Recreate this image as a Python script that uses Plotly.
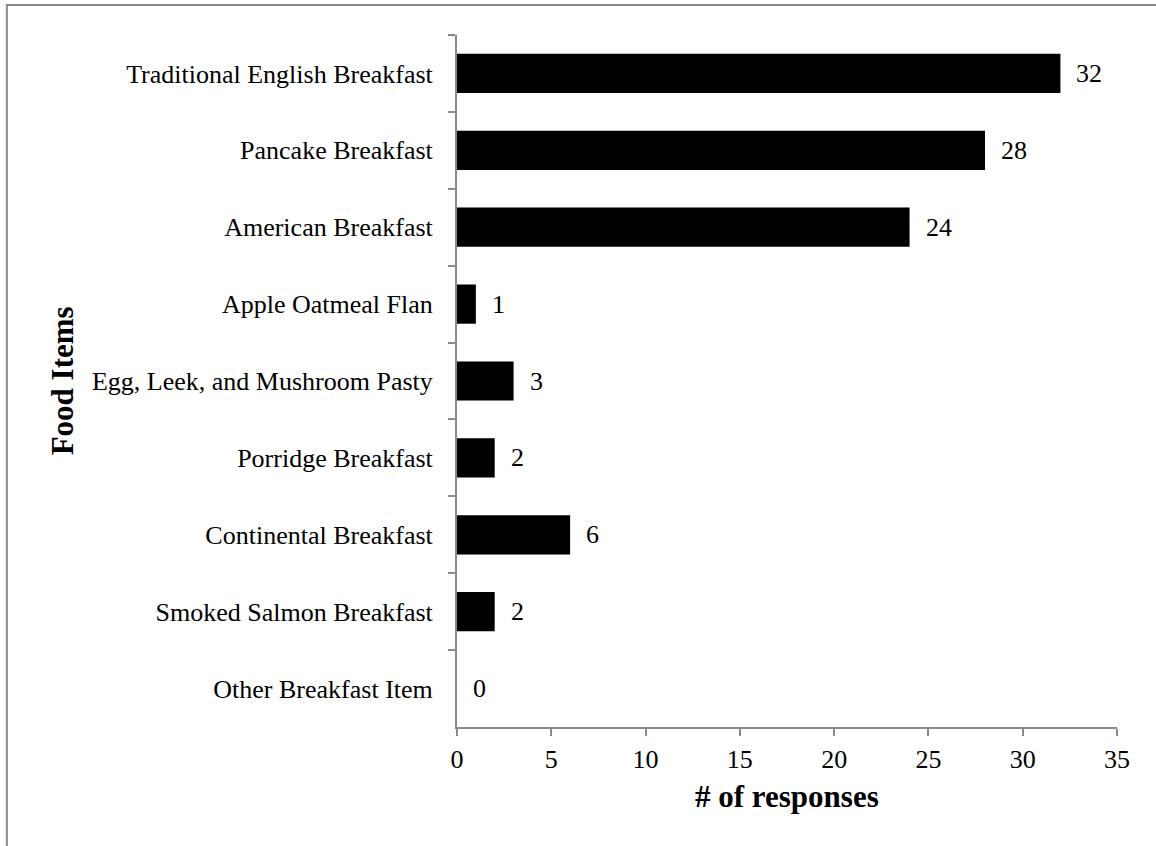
import plotly.graph_objects as go

# Survey responses per breakfast item (top to bottom)
food_items = [
    "Traditional English Breakfast",
    "Pancake Breakfast",
    "American Breakfast",
    "Apple Oatmeal Flan",
    "Egg, Leek, and Mushroom Pasty",
    "Porridge Breakfast",
    "Continental Breakfast",
    "Smoked Salmon Breakfast",
    "Other Breakfast Item",
]
responses = [32, 28, 24, 1, 3, 2, 6, 2, 0]
x_ticks = [0, 5, 10, 15, 20, 25, 30, 35]

FONT = "Liberation Serif, Times New Roman, serif"
AXIS_GREY = "#8a8a8a"
TICK_SIZE = 26
TITLE_SIZE = 31

fig = go.Figure(
    go.Bar(
        x=responses,
        y=food_items,
        orientation="h",
        marker=dict(color="black", line=dict(width=0)),
        width=0.51,
    )
)

# value labels just to the right of each bar end
for item, val in zip(food_items, responses):
    fig.add_annotation(
        x=val,
        y=item,
        xref="x",
        yref="y",
        text=str(val),
        showarrow=False,
        xanchor="left",
        yanchor="middle",
        xshift=14,
        font=dict(family=FONT, size=TICK_SIZE, color="black"),
    )

# axis titles
fig.add_annotation(
    x=0.5,
    y=-0.101,
    xref="paper",
    yref="paper",
    text="<b># of responses</b>",
    showarrow=False,
    xanchor="center",
    yanchor="middle",
    font=dict(family=FONT, size=TITLE_SIZE, color="black"),
)
fig.add_annotation(
    x=-0.598,
    y=0.5,
    xref="paper",
    yref="paper",
    text="<b>Food Items</b>",
    textangle=-90,
    showarrow=False,
    xanchor="center",
    yanchor="middle",
    font=dict(family=FONT, size=TITLE_SIZE, color="black"),
)

fig.update_layout(
    width=1156,
    height=846,
    margin=dict(l=457, r=39, t=35, b=119),
    paper_bgcolor="white",
    plot_bgcolor="white",
    font=dict(family=FONT, size=TICK_SIZE, color="black"),
    showlegend=False,
    xaxis=dict(
        range=[0, 35],
        tickvals=x_ticks,
        ticktext=[str(t) for t in x_ticks],
        showgrid=False,
        zeroline=False,
        showline=True,
        linecolor=AXIS_GREY,
        linewidth=2,
        ticks="outside",
        ticklen=7,
        tickwidth=2,
        tickcolor=AXIS_GREY,
        ticklabelstandoff=1,
        tickfont=dict(family=FONT, size=TICK_SIZE, color="black"),
    ),
    yaxis=dict(
        categoryorder="array",
        categoryarray=food_items,
        autorange="reversed",
        showgrid=False,
        zeroline=False,
        showline=True,
        linecolor=AXIS_GREY,
        linewidth=2,
        ticks="outside",
        tickson="boundaries",
        ticklen=7,
        tickwidth=2,
        tickcolor=AXIS_GREY,
        ticklabelstandoff=17,
        tickfont=dict(family=FONT, size=TICK_SIZE, color="black"),
    ),
    shapes=[
        # outer frame around the chart area
        dict(
            type="rect",
            xref="paper",
            yref="paper",
            x0=-0.682,
            x1=1.2,
            y0=-0.3,
            y1=1.0434,
            line=dict(color="#8c8c8c", width=2),
            fillcolor="rgba(0,0,0,0)",
            layer="below",
        )
    ],
)

fig.write_html("out.html")
